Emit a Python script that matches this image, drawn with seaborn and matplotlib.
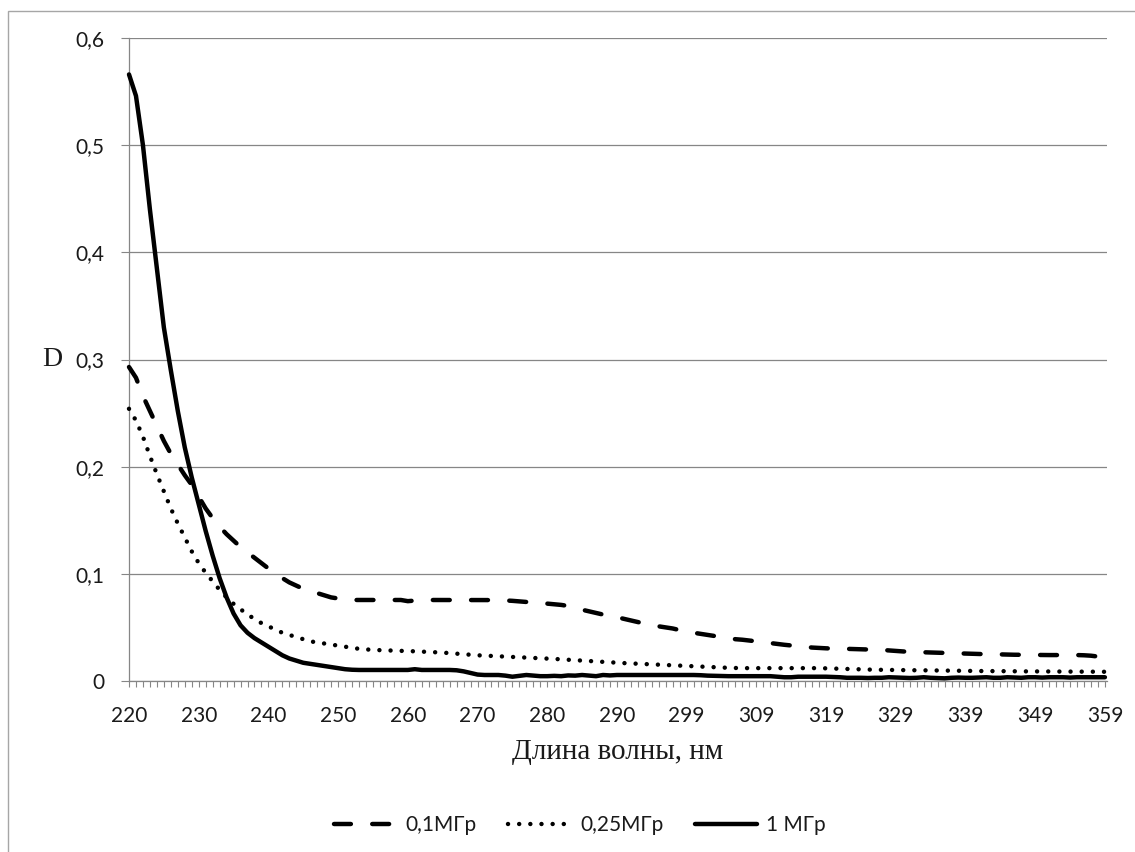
import numpy as np
import pandas as pd
import matplotlib
matplotlib.use("Agg")
import matplotlib.pyplot as plt
import seaborn as sns
from matplotlib.patches import Rectangle

# ---------------- data ----------------
series_labels = ["0,1МГр", "0,25МГр", "1 МГр"]
x_tick_labels = ["220", "230", "240", "250", "260", "270", "280", "290",
                 "299", "309", "319", "329", "339", "349", "359"]
y_ticks = [0.0, 0.1, 0.2, 0.3, 0.4, 0.5, 0.6]
y_tick_labels = ["0", "0,1", "0,2", "0,3", "0,4", "0,5", "0,6"]

d_01 = [
    0.293, 0.283, 0.266, 0.252, 0.238, 0.224, 0.212, 0.202, 0.192, 0.183,
    0.172, 0.161, 0.152, 0.144, 0.137, 0.131, 0.125, 0.120, 0.115, 0.110,
    0.105, 0.100, 0.096, 0.092, 0.089, 0.086, 0.084, 0.082, 0.080, 0.078,
    0.077, 0.076, 0.0756, 0.0756, 0.0756, 0.0756, 0.0756, 0.0756, 0.0756, 0.0756,
    0.0745, 0.0750, 0.0756, 0.0756, 0.0756, 0.0756, 0.0756, 0.0756, 0.0756, 0.0756,
    0.0756, 0.0756, 0.0756, 0.0755, 0.0752, 0.0748, 0.0743, 0.0738, 0.0733, 0.0728,
    0.0722, 0.0716, 0.0710, 0.0700, 0.0680, 0.0665, 0.0650, 0.0635, 0.0620, 0.0605,
    0.0595, 0.0580, 0.0565, 0.0550, 0.0535, 0.0520, 0.0510, 0.0500, 0.0490, 0.0475,
    0.0460, 0.0450, 0.0440, 0.0430, 0.0420, 0.0410, 0.0400, 0.0390, 0.0385, 0.0378,
    0.0370, 0.0362, 0.0355, 0.0345, 0.0338, 0.0332, 0.0325, 0.0318, 0.0312, 0.0308,
    0.0305, 0.0302, 0.0300, 0.0300, 0.0298, 0.0296, 0.0294, 0.0292, 0.0290, 0.0285,
    0.0280, 0.0276, 0.0272, 0.0270, 0.0268, 0.0266, 0.0264, 0.0262, 0.0260, 0.0258,
    0.0256, 0.0254, 0.0252, 0.0250, 0.0250, 0.0248, 0.0246, 0.0245, 0.0245, 0.0244,
    0.0243, 0.0242, 0.0242, 0.0242, 0.0242, 0.0242, 0.0242, 0.0240, 0.0236, 0.0228,
    0.0218,
]

d_025 = [
    0.254, 0.243, 0.228, 0.210, 0.193, 0.177, 0.161, 0.147, 0.134, 0.121,
    0.110, 0.101, 0.093, 0.085, 0.078, 0.072, 0.067, 0.062, 0.058, 0.054,
    0.051, 0.048, 0.045, 0.043, 0.041, 0.039, 0.037, 0.036, 0.035, 0.034,
    0.033, 0.032, 0.031, 0.030, 0.0295, 0.029, 0.0288, 0.0285, 0.0283, 0.0282,
    0.0280, 0.0277, 0.0274, 0.0271, 0.0268, 0.0265, 0.0260, 0.0255, 0.0250, 0.0245,
    0.0240, 0.0237, 0.0234, 0.0231, 0.0228, 0.0225, 0.0222, 0.0219, 0.0216, 0.0213,
    0.0210, 0.0206, 0.0202, 0.0198, 0.0194, 0.0190, 0.0186, 0.0182, 0.0178, 0.0174,
    0.0170, 0.0167, 0.0164, 0.0161, 0.0158, 0.0155, 0.0152, 0.0149, 0.0146, 0.0143,
    0.0140, 0.0137, 0.0134, 0.0131, 0.0128, 0.0125, 0.0123, 0.0121, 0.0120, 0.0120,
    0.0120, 0.0120, 0.0120, 0.0120, 0.0120, 0.0120, 0.0120, 0.0120, 0.0120, 0.0120,
    0.0118, 0.0116, 0.0114, 0.0112, 0.0110, 0.0108, 0.0106, 0.0105, 0.0104, 0.0103,
    0.0102, 0.0101, 0.0100, 0.0100, 0.0100, 0.0099, 0.0098, 0.0097, 0.0096, 0.0095,
    0.0095, 0.0094, 0.0093, 0.0093, 0.0092, 0.0092, 0.0091, 0.0091, 0.0090, 0.0090,
    0.0090, 0.0089, 0.0089, 0.0088, 0.0088, 0.0088, 0.0087, 0.0087, 0.0087, 0.0086,
    0.0086,
]

d_1 = [
    0.566, 0.546, 0.500, 0.440, 0.385, 0.330, 0.290, 0.252, 0.218, 0.190,
    0.165, 0.140, 0.117, 0.096, 0.078, 0.063, 0.052, 0.045, 0.040, 0.036,
    0.032, 0.028, 0.024, 0.021, 0.019, 0.017, 0.016, 0.015, 0.014, 0.013,
    0.012, 0.011, 0.0105, 0.0103, 0.0103, 0.0103, 0.0103, 0.0103, 0.0103, 0.0103,
    0.0103, 0.0110, 0.0103, 0.0103, 0.0103, 0.0103, 0.0103, 0.0100, 0.0090, 0.0075,
    0.0060, 0.0056, 0.0056, 0.0056, 0.0050, 0.0040, 0.0048, 0.0056, 0.0050, 0.0045,
    0.0045, 0.0048, 0.0045, 0.0052, 0.0050, 0.0056, 0.0050, 0.0045, 0.0056, 0.0052,
    0.0056, 0.0056, 0.0056, 0.0056, 0.0056, 0.0056, 0.0056, 0.0056, 0.0056, 0.0056,
    0.0056, 0.0056, 0.0054, 0.0050, 0.0048, 0.0045, 0.0045, 0.0045, 0.0045, 0.0045,
    0.0045, 0.0045, 0.0045, 0.0040, 0.0035, 0.0035, 0.0040, 0.0040, 0.0040, 0.0040,
    0.0040, 0.0038, 0.0035, 0.0030, 0.0030, 0.0030, 0.0028, 0.0030, 0.0030, 0.0035,
    0.0033, 0.0030, 0.0028, 0.0030, 0.0035, 0.0030, 0.0028, 0.0025, 0.0030, 0.0032,
    0.0030, 0.0030, 0.0032, 0.0035, 0.0030, 0.0030, 0.0035, 0.0032, 0.0030, 0.0035,
    0.0035, 0.0032, 0.0035, 0.0035, 0.0035, 0.0032, 0.0035, 0.0035, 0.0035, 0.0035,
    0.0035,
]

# ---------------- style ----------------
sns.set_theme(style="white")
plt.rcParams["font.family"] = ["Lato", "DejaVu Sans"]
GRID = "#868686"
TXT = "#1a1a1a"
SERIF = ["Liberation Serif", "DejaVu Serif"]

W, H = 1135, 852
fig = plt.figure(figsize=(W / 100, H / 100), dpi=100)
fig.patch.set_facecolor("white")
ax = fig.add_axes([129 / W, 1 - 681 / H, 978 / W, 643 / H])

n = len(d_1)
df = pd.DataFrame({"idx": np.arange(n), "d01": d_01, "d025": d_025, "d1": d_1})

sns.lineplot(data=df, x="idx", y="d01", ax=ax, color="black", lw=3.2,
             linestyle=(0, (3.8, 4.8)), dash_capstyle="round",
             solid_capstyle="round", errorbar=None, label=series_labels[0],
             clip_on=False, zorder=3)
sns.lineplot(data=df, x="idx", y="d025", ax=ax, color="black", lw=3.2,
             linestyle=(0, (0.01, 2.5)), dash_capstyle="round",
             errorbar=None, label=series_labels[1], clip_on=False, zorder=3)
sns.lineplot(data=df, x="idx", y="d1", ax=ax, color="black", lw=3.2,
             solid_capstyle="round", solid_joinstyle="round",
             errorbar=None, label=series_labels[2], clip_on=False, zorder=3)

# axes limits and ticks
ax.set_xlim(0, (n - 1) + 0.3)
ax.set_ylim(y_ticks[0], y_ticks[-1])
major_pos = np.arange(0, n, 10)
ax.set_xticks(major_pos)
ax.set_xticklabels(x_tick_labels)
ax.set_xticks(np.arange(n), minor=True)
ax.set_yticks(y_ticks)
ax.set_yticklabels(y_tick_labels)

ax.tick_params(axis="x", which="both", direction="out", length=4.5, width=0.8,
               color=GRID, pad=13.5, labelsize=15, labelcolor=TXT, bottom=True)
ax.tick_params(axis="y", which="major", direction="out", length=5.5, width=0.8,
               color=GRID, pad=12, labelsize=15, labelcolor=TXT, left=True)

ax.yaxis.grid(True, color=GRID, lw=0.9)
ax.xaxis.grid(False)
ax.set_axisbelow(True)
for s in ["top", "right"]:
    ax.spines[s].set_visible(False)
for s in ["left", "bottom"]:
    ax.spines[s].set_color(GRID)
    ax.spines[s].set_linewidth(0.9)

ax.set_xlabel("Длина волны, нм", fontsize=21, family=SERIF, color=TXT)
ax.xaxis.set_label_coords(0.5, (681 - 752) / 643)
ax.xaxis.label.set_verticalalignment("center")
ax.set_ylabel("D", fontsize=20, family=SERIF, color=TXT, rotation=0)
ax.yaxis.set_label_coords((52 - 129) / 978, (681 - 359) / 643)
ax.yaxis.label.set_verticalalignment("center")
ax.yaxis.label.set_horizontalalignment("center")

handles, labels = ax.get_legend_handles_labels()
if ax.get_legend() is not None:
    ax.get_legend().remove()
fig.legend(handles, labels, loc="center", bbox_to_anchor=(580 / W, 1 - 825 / H),
           ncol=3, frameon=False, fontsize=15, handlelength=3.0,
           handletextpad=0.45, columnspacing=1.5, labelcolor=TXT)

# outer chart-area frame (cropped at right and bottom in the reference)
fig.add_artist(Rectangle((8 / W, -0.05), 1.2, 1 - 11 / H + 0.05,
                         transform=fig.transFigure, fill=False,
                         edgecolor="#a6a6a6", lw=1.0))

fig.savefig("out.png", dpi=100)
